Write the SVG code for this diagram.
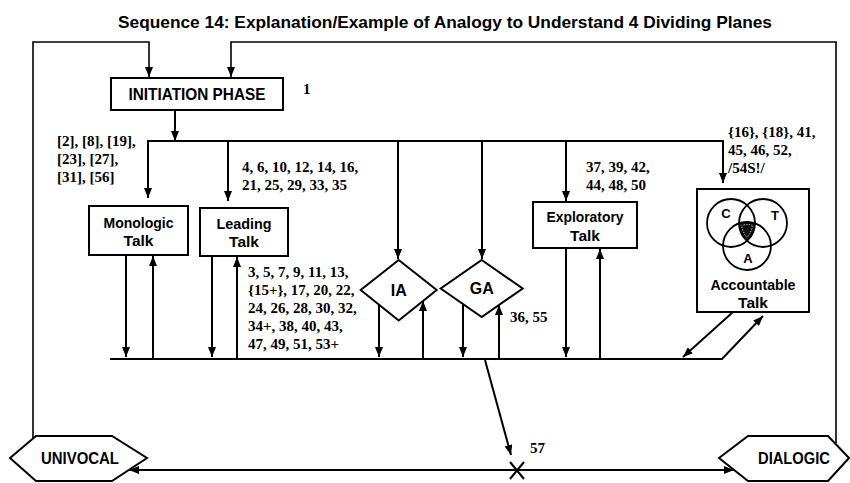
<svg xmlns="http://www.w3.org/2000/svg" width="850" height="483" viewBox="0 0 850 483">
<style>
.bg{fill:#fff}
.box{fill:#fff;stroke:#000;stroke-width:2}
.ln{fill:none;stroke:#000;stroke-width:2}
.fr{fill:none;stroke:#000;stroke-width:1.6}
.lbl{font-family:"Liberation Sans",Arial,sans-serif;font-weight:bold;fill:#000;text-anchor:middle}
.num{font-family:"Liberation Serif","Times New Roman",serif;font-weight:bold;font-size:15px;fill:#000}
.ttl{font-family:"Liberation Sans",Arial,sans-serif;font-weight:bold;font-size:17px;fill:#000;text-anchor:middle}
.vc{fill:none;stroke:#000;stroke-width:1.8}
.dot{fill:none;stroke:#fff;stroke-width:0.8;stroke-dasharray:1.2,1.5}
</style>
<defs>
<marker id="ah" viewBox="0 0 10 8" refX="10" refY="4" markerWidth="10" markerHeight="8" markerUnits="userSpaceOnUse" orient="auto-start-reverse">
<path d="M0,0 L10,4 L0,8 z" fill="#000"/>
</marker>
<clipPath id="cC"><circle cx="731" cy="223" r="24"/></clipPath>
<clipPath id="cT"><circle cx="763" cy="223" r="24"/></clipPath>
<clipPath id="cCi"><circle cx="731" cy="223" r="21.5"/></clipPath>
<clipPath id="cTi"><circle cx="763" cy="223" r="21.5"/></clipPath>
<clipPath id="cAi"><circle cx="747" cy="246" r="21.5"/></clipPath>
</defs>
<rect class="bg" x="0" y="0" width="850" height="483"/>
<text class="ttl" x="445" y="28" textLength="654" lengthAdjust="spacingAndGlyphs">Sequence 14: Explanation/Example of Analogy to Understand 4 Dividing Planes</text>

<g id="connectors">
<path class="fr" d="M33,438 V42 H149 V77" marker-end="url(#ah)"/>
<path class="fr" d="M836,443 V42 H231 V77" marker-end="url(#ah)"/>
<path class="ln" d="M175,110 V141" marker-end="url(#ah)"/>
<path class="ln" d="M148,198 V141 H723 V183" marker-start="url(#ah)" marker-end="url(#ah)"/>
<path class="ln" d="M228,141 V201" marker-end="url(#ah)"/>
<path class="ln" d="M398,141 V259" marker-end="url(#ah)"/>
<path class="ln" d="M482,141 V259" marker-end="url(#ah)"/>
<path class="ln" d="M566,141 V201" marker-end="url(#ah)"/>
<path class="ln" d="M126,255 V357" marker-end="url(#ah)"/>
<path class="ln" d="M153,359 V256" marker-end="url(#ah)"/>
<path class="ln" d="M212,256 V357" marker-end="url(#ah)"/>
<path class="ln" d="M237,359 V257" marker-end="url(#ah)"/>
<path class="ln" d="M379,305 V357" marker-end="url(#ah)"/>
<path class="ln" d="M423,359 V301" marker-end="url(#ah)"/>
<path class="ln" d="M463,304 V357" marker-end="url(#ah)"/>
<path class="ln" d="M499,359 V305" marker-end="url(#ah)"/>
<path class="ln" d="M566,248 V357" marker-end="url(#ah)"/>
<path class="ln" d="M600,359 V249" marker-end="url(#ah)"/>
<path class="ln" d="M110,359 H722 L763,316" stroke-width="2.4" marker-end="url(#ah)"/>
<path class="ln" d="M733,312 L683,357" marker-end="url(#ah)"/>
<path class="ln" d="M485,360 L511,455" stroke-width="1.6" marker-end="url(#ah)"/>
<path class="ln" d="M129,470 H734" stroke-width="3" marker-start="url(#ah)" marker-end="url(#ah)"/>
<path class="ln" d="M510,462 L524,479 M524,462 L510,479" stroke-width="3.6"/>
</g>

<g id="initiation">
<rect class="box" x="111" y="78" width="172" height="32"/>
<text class="lbl" x="197" y="100" font-size="17" textLength="137" lengthAdjust="spacingAndGlyphs">INITIATION PHASE</text>
</g>
<g id="monologic">
<rect class="box" x="89" y="206" width="99" height="49"/>
<text class="lbl" x="138.5" y="228" font-size="15.5" textLength="70" lengthAdjust="spacingAndGlyphs">Monologic</text>
<text class="lbl" x="138.5" y="246" font-size="15.5">Talk</text>
</g>
<g id="leading">
<rect class="box" x="200" y="208" width="88" height="48"/>
<text class="lbl" x="244" y="229" font-size="15.5" textLength="55" lengthAdjust="spacingAndGlyphs">Leading</text>
<text class="lbl" x="244" y="247" font-size="15.5">Talk</text>
</g>
<g id="ia">
<polygon class="box" points="398.7,260 436.7,290 398.7,320.5 360.7,290"/>
<text class="lbl" x="398.7" y="296" font-size="16">IA</text>
</g>
<g id="ga">
<polygon class="box" points="481.7,260 522.7,288.5 481.7,317 440.7,288.5"/>
<text class="lbl" x="481.7" y="294" font-size="16">GA</text>
</g>
<g id="exploratory">
<rect class="box" x="533" y="202" width="104" height="46"/>
<text class="lbl" x="585" y="222" font-size="15.5" textLength="77" lengthAdjust="spacingAndGlyphs">Exploratory</text>
<text class="lbl" x="585" y="241" font-size="15.5">Talk</text>
</g>
<g id="accountable">
<rect class="box" x="697" y="189" width="112" height="123"/>
<g clip-path="url(#cC)"><g clip-path="url(#cT)"><circle cx="747" cy="246" r="24" fill="#111"/></g></g>
<g clip-path="url(#cCi)"><g clip-path="url(#cTi)"><circle class="dot" cx="747" cy="246" r="21.5"/></g></g>
<g clip-path="url(#cCi)"><g clip-path="url(#cAi)"><circle class="dot" cx="763" cy="223" r="21.5"/></g></g>
<g clip-path="url(#cTi)"><g clip-path="url(#cAi)"><circle class="dot" cx="731" cy="223" r="21.5"/></g></g>
<circle class="vc" cx="731" cy="223" r="24"/>
<circle class="vc" cx="763" cy="223" r="24"/>
<circle class="vc" cx="747" cy="246" r="24"/>
<text class="lbl" x="726" y="218" font-size="13">C</text>
<text class="lbl" x="775" y="220" font-size="13">T</text>
<text class="lbl" x="748" y="263" font-size="13">A</text>
<text class="lbl" x="753" y="290" font-size="15.5" textLength="85" lengthAdjust="spacingAndGlyphs">Accountable</text>
<text class="lbl" x="753" y="308" font-size="15.5">Talk</text>
</g>
<g id="univocal">
<polygon class="box" points="10,458 36,436 112,436 147,458 112,481 36,481"/>
<text class="lbl" x="80" y="464" font-size="16" textLength="78" lengthAdjust="spacingAndGlyphs">UNIVOCAL</text>
</g>
<g id="dialogic">
<polygon class="box" points="719,458 748,436 828,436 849,458 828,481 748,481"/>
<text class="lbl" x="794" y="464" font-size="16" textLength="72" lengthAdjust="spacingAndGlyphs">DIALOGIC</text>
</g>

<g id="labels">
<text class="num" x="303" y="94">1</text>
<text class="num" x="57" y="146">[2], [8], [19],</text>
<text class="num" x="57" y="164">[23], [27],</text>
<text class="num" x="57" y="182">[31], [56]</text>
<text class="num" x="242" y="172">4, 6, 10, 12, 14, 16,</text>
<text class="num" x="242" y="190">21, 25, 29, 33, 35</text>
<text class="num" x="248" y="277">3, 5, 7, 9, 11, 13,</text>
<text class="num" x="248" y="295">{15+}, 17, 20, 22,</text>
<text class="num" x="248" y="313">24, 26, 28, 30, 32,</text>
<text class="num" x="248" y="331">34+, 38, 40, 43,</text>
<text class="num" x="248" y="349">47, 49, 51, 53+</text>
<text class="num" x="586" y="172">37, 39, 42,</text>
<text class="num" x="586" y="190">44, 48, 50</text>
<text class="num" x="728" y="137">{16}, {18}, 41,</text>
<text class="num" x="728" y="155">45, 46, 52,</text>
<text class="num" x="728" y="173">/54S!/</text>
<text class="num" x="510" y="322">36, 55</text>
<text class="num" x="530" y="453">57</text>
</g>
</svg>
